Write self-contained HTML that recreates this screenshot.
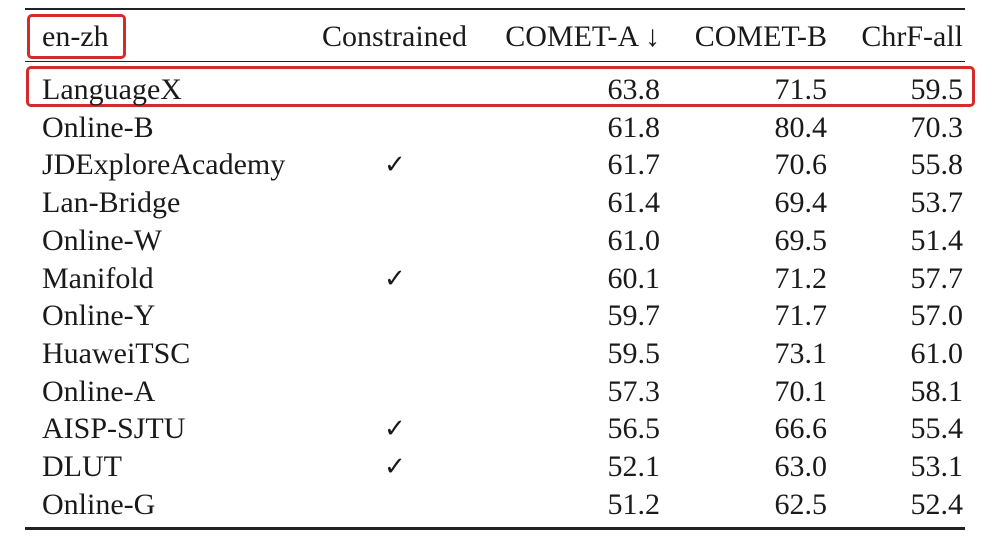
<!DOCTYPE html>
<html><head><meta charset="utf-8"><style>
body{margin:0;width:1000px;height:551px;background:#fff;overflow:hidden;position:relative;font-family:"Liberation Serif",serif;color:#1a1a1a}
.t{position:absolute;font-size:30px;line-height:30px;white-space:nowrap}
.r{text-align:right}
.rule{position:absolute;left:25px;width:940px;background:#222}
.box{position:absolute;border:3.5px solid #d42a2a;border-radius:5px;box-sizing:border-box}
</style></head><body>
<div class="rule" style="top:8px;height:2px"></div>
<div class="rule" style="top:61px;height:1px"></div>
<div class="rule" style="top:527px;height:2.5px"></div>
<div class="box" style="left:27px;top:14px;width:99px;height:45px"></div>
<div class="box" style="left:26px;top:66px;width:949px;height:41px"></div>
<div class="t" style="left:42px;top:22px">en-zh</div>
<div class="t" style="left:322px;top:22px">Constrained</div>
<div class="t r" style="right:340px;top:22px">COMET-A ↓</div>
<div class="t r" style="right:173px;top:22px">COMET-B</div>
<div class="t r" style="right:37px;top:22px">ChrF-all</div>
<div id="rows"></div>
<script>
const names=["LanguageX","Online-B","JDExploreAcademy","Lan-Bridge","Online-W","Manifold","Online-Y","HuaweiTSC","Online-A","AISP-SJTU","DLUT","Online-G"];
const constrained=[0,0,1,0,0,1,0,0,0,1,1,0];
const cometA=["63.8","61.8","61.7","61.4","61.0","60.1","59.7","59.5","57.3","56.5","52.1","51.2"];
const cometB=["71.5","80.4","70.6","69.4","69.5","71.2","71.7","73.1","70.1","66.6","63.0","62.5"];
const chrf=["59.5","70.3","55.8","53.7","51.4","57.7","57.0","61.0","58.1","55.4","53.1","52.4"];
const root=document.getElementById('rows');
function cell(txt,style,name){const d=document.createElement('div');d.className='t'+(style.right?' r':'');Object.assign(d.style,style);d.textContent=txt;


root.appendChild(d);}
names.forEach((n,i)=>{const top=(75+i*37.7)+'px';
cell(n,{left:'42px',top},'system-name');
if(constrained[i])cell('✓',{left:'384px',top,fontSize:'26px'},'constrained-check');
cell(cometA[i],{right:'340px',top},'comet-a-value');
cell(cometB[i],{right:'173px',top},'comet-b-value');
cell(chrf[i],{right:'37px',top},'chrf-value');});
</script>
</body></html>
